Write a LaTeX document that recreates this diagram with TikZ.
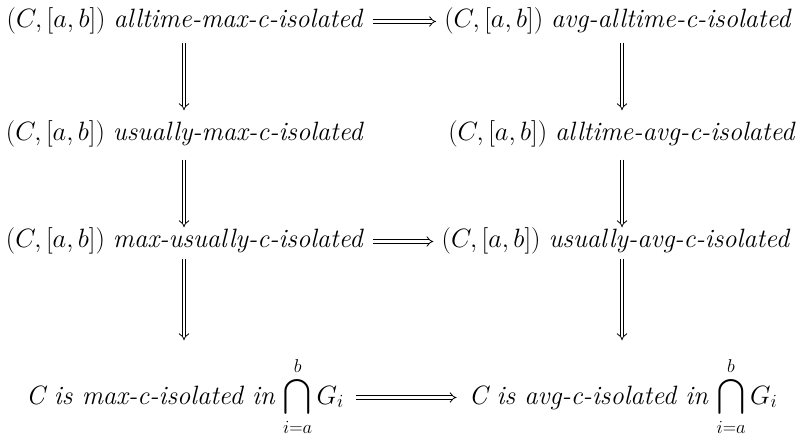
\RequirePackage{fix-cm}
\documentclass[tikz,border=0pt]{standalone}
\usepackage{amsmath}
\usepackage{exscale}
\usetikzlibrary{arrows.meta}
\begin{document}
\begin{tikzpicture}[x=1pt,y=-1pt,
  lab/.style={anchor=base, inner sep=0pt, text height=19.5pt, text depth=6.5pt,
              font=\fontsize{26.5}{32}\selectfont},
  imp/.style={double, double distance=2.8pt, line width=0.8pt, -{Implies}}]
\useasboundingbox (0,0) rectangle (797,443);
% row 1
\node[lab] (a1) at (185,28) {$(C,[a,b])$ \textit{alltime-max-c-isolated}};
\node[lab] (b1) at (618,28) {$(C,[a,b])$ \textit{avg-alltime-c-isolated}};
% row 2
\node[lab] (a2) at (185,141) {$(C,[a,b])$ \textit{usually-max-c-isolated}};
\node[lab] (b2) at (622,141) {$(C,[a,b])$ \textit{alltime-avg-c-isolated}};
% row 3
\node[lab] (a3) at (185,248) {$(C,[a,b])$ \textit{max-usually-c-isolated}};
\node[lab] (b3) at (616,248) {$(C,[a,b])$ \textit{usually-avg-c-isolated}};
% row 4
\node[lab] (a4) at (185,404) {\textit{C is max-c-isolated in} $\displaystyle\bigcap_{i=a}^{b} G_i$};
\node[lab] (b4) at (623,404) {\textit{C is avg-c-isolated in} $\displaystyle\bigcap_{i=a}^{b} G_i$};
% horizontal arrows
\draw[imp, shorten <=9pt, shorten >=8pt] (a1) -- (b1);
\draw[imp, shorten <=9pt, shorten >=8pt] (a3) -- (b3);
\draw[imp, shorten <=12pt, shorten >=12pt] (a4) -- (b4);
% vertical arrows
\draw[imp, shorten <=8pt, shorten >=11pt] (a1.south -| 184,0) -- (a2.north -| 184,0);
\draw[imp, shorten <=12pt, shorten >=1pt] (a2.south -| 184,0) -- (a3.north -| 184,0);
\draw[imp, shorten <=4pt, shorten >=44pt] (a3.south -| 184,0) -- (a4.north -| 184,0);
\draw[imp, shorten <=8pt, shorten >=11pt] (b1.south -| 622,0) -- (b2.north -| 622,0);
\draw[imp, shorten <=12pt, shorten >=1pt] (b2.south -| 622,0) -- (b3.north -| 622,0);
\draw[imp, shorten <=4pt, shorten >=44pt] (b3.south -| 622,0) -- (b4.north -| 622,0);
\end{tikzpicture}
\end{document}
